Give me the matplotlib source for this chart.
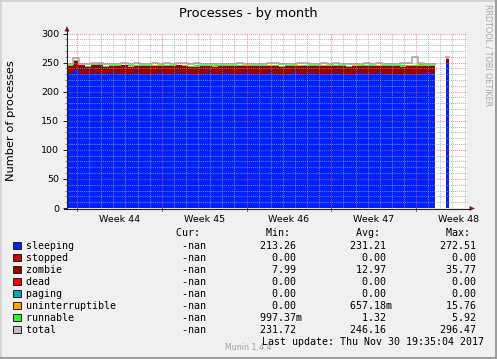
import numpy as np
import matplotlib
matplotlib.use("Agg")
import matplotlib.pyplot as plt
from matplotlib.patches import Rectangle, Polygon
from matplotlib.transforms import blended_transform_factory

W, H = 497, 359

# ---------------- data (half-day samples) ----------------
sleeping = [
    231, 237, 231, 230, 232, 231, 230, 232,
    231, 231, 230, 232, 231, 230, 231, 232,
    231, 230, 232, 231, 231, 229, 231, 232,
    230, 231, 232, 231, 230, 232, 231, 231,
    230, 232, 231, 229, 231, 232, 231, 230,
    232, 231, 230, 231, 232, 231, 229, 231,
    232, 231, 230, 232, 231, 230, 231, 229,
    231, 228, 231, 232, 231]
zombie = [
    13, 15, 14, 13, 13, 14, 13, 12,
    13, 14, 13, 12, 13, 14, 13, 12,
    13, 14, 13, 13, 12, 14, 13, 12,
    13, 13, 12, 13, 14, 12, 13, 13,
    14, 12, 13, 14, 13, 12, 13, 14,
    12, 13, 14, 13, 12, 13, 14, 13,
    12, 13, 14, 12, 13, 14, 13, 14,
    13, 16, 13, 12, 13]
uninterruptible = [
    0, 1, 0, 0, 1, 0, 0, 0,
    0, 0, 1, 0, 0, 0, 1, 0,
    0, 0, 0, 1, 0, 0, 0, 0,
    1, 0, 0, 0, 0, 1, 0, 0,
    0, 1, 0, 0, 0, 0, 1, 0,
    0, 0, 1, 0, 0, 0, 0, 1,
    0, 0, 0, 1, 0, 0, 0, 0,
    1, 0, 2, 0, 0]
runnable = [
    1, 2, 1, 1, 1, 2, 1, 1,
    1, 1, 1, 2, 1, 1, 1, 1,
    2, 1, 1, 1, 1, 2, 1, 1,
    1, 1, 1, 1, 2, 1, 1, 1,
    1, 1, 2, 1, 1, 1, 1, 2,
    1, 1, 1, 1, 2, 1, 1, 1,
    1, 2, 1, 1, 1, 1, 1, 2,
    1, 1, 1, 1, 1]
total = [
    248, 258, 248, 247, 249, 249, 247, 248,
    248, 249, 248, 249, 248, 248, 249, 248,
    249, 248, 249, 249, 247, 249, 248, 248,
    248, 248, 248, 248, 250, 248, 248, 248,
    248, 249, 249, 247, 248, 248, 249, 250,
    248, 248, 249, 248, 249, 248, 247, 248,
    248, 249, 248, 249, 248, 248, 248, 249,
    249, 259, 250, 248, 248]
# short burst of data after the gap
spike_sleeping, spike_zombie, spike_unint, spike_runnable, spike_total = 250, 6, 2, 1, 260

data_end_day = 30.35
spike_days = [31.3, 31.55]
range_days = 33.03
first_monday = 0.83          # Monday of week 44, days from left edge
week_labels = ["Week 44", "Week 45", "Week 46", "Week 47", "Week 48"]
y_ticks = [0, 50, 100, 150, 200, 250, 300]

legend_names = ["sleeping", "stopped", "zombie", "dead", "paging",
                "uninterruptible", "runnable", "total"]
legend_colors = ["#0022ff", "#cc0000", "#990000", "#ff0000", "#00aaaa",
                 "#ffa500", "#22ff22", "#c0c0c0"]
stat_cur = ["-nan"] * 8
stat_min = ["213.26", "0.00", "7.99", "0.00", "0.00", "0.00", "997.37m", "231.72"]
stat_avg = ["231.21", "0.00", "12.97", "0.00", "0.00", "657.18m", "1.32", "246.16"]
stat_max = ["272.51", "0.00", "35.77", "0.00", "0.00", "15.76", "5.92", "296.47"]

# ---------------- figure ----------------
BG = "#f0f0f0"
fig = plt.figure(figsize=(W / 100, H / 100), dpi=100, facecolor=BG)

def fx(x):
    return x / W

def fy(y):
    return 1 - y / H

# shade border
fig.add_artist(plt.Line2D([0, 1], [fy(0.5), fy(0.5)], transform=fig.transFigure, color="#cfcfcf", lw=1.2))
fig.add_artist(plt.Line2D([fx(0.5), fx(0.5)], [0, 1], transform=fig.transFigure, color="#cfcfcf", lw=1.2))
fig.add_artist(plt.Line2D([0, 1], [fy(358), fy(358)], transform=fig.transFigure, color="#9e9e9e", lw=1.5))
fig.add_artist(plt.Line2D([fx(496), fx(496)], [0, 1], transform=fig.transFigure, color="#9e9e9e", lw=1.5))

ax = fig.add_axes([fx(67), fy(208), 400 / W, 174.5 / H])
ax.set_facecolor("white")
ax.set_xlim(0, range_days)
ax.set_ylim(0, 300)
for s in ax.spines.values():
    s.set_visible(False)

n = len(sleeping)
t = np.arange(n) * 0.5
x_main = np.append(t, data_end_day)

def ext(a):
    a = np.asarray(a, dtype=float)
    return np.append(a, a[-1])

layers = [(sleeping, "#0022ff"), (zombie, "#990000"),
          (uninterruptible, "#ffa500"), (runnable, "#22ff22")]
spike_layers = [spike_sleeping, spike_zombie, spike_unint, spike_runnable]

bottom = np.zeros(n + 1)
sb = 0.0
for (vals, col), sv in zip(layers, spike_layers):
    v = ext(vals)
    ax.fill_between(x_main, bottom, bottom + v, step="post", color=col,
                    lw=0, antialiased=False, zorder=2)
    ax.fill_between(spike_days, [sb, sb], [sb + sv, sb + sv], step="post",
                    color=col, lw=0, antialiased=False, zorder=2)
    bottom = bottom + v
    sb += sv

ax.step(x_main, ext(total), where="post", color="#b8b8b8", lw=1.4, zorder=2.5)
ax.step(spike_days, [spike_total, spike_total], where="post", color="#b8b8b8",
        lw=1.4, zorder=2.5)

# grid (drawn on top like rrdtool)
minor_col = (0.62, 0.62, 0.62, 0.7)
major_col = (0.9, 0.35, 0.35, 0.65)
dash = (0, (1, 1))
day = first_monday - 1
while day < range_days:
    if day > 0:
        k = round(day - first_monday)
        is_major = (k % 7 == 0)
        ax.axvline(day, color=major_col if is_major else minor_col, lw=0.75,
                   ls=dash, zorder=3)
    day += 1
for yv in range(10, 301, 10):
    ax.axhline(yv, color=major_col if yv % 50 == 0 else minor_col, lw=0.75,
               ls=dash, zorder=3)

# ticks
ax.set_yticks(y_ticks)
ax.set_yticklabels([str(v) for v in y_ticks], fontsize=6.8)
ax.set_yticks(range(0, 301, 10), minor=True)
ax.tick_params(axis="y", which="major", length=3, width=0.7, color="#202020", pad=2.5)
ax.tick_params(axis="y", which="minor", length=1.5, width=0.7, color="#909090")
label_pos = [first_monday - 3.5 + 7 * (i + 1) for i in range(len(week_labels))]
ax.set_xticks(label_pos)
ax.set_xticklabels(week_labels, fontsize=6.8)
ax.tick_params(axis="x", which="major", length=0, pad=5)

trans = blended_transform_factory(ax.transData, fig.transFigure)
for i in range(len(week_labels)):
    wd = first_monday + 7 * i
    ax.add_line(plt.Line2D([wd, wd], [fy(208), fy(211)], transform=trans,
                           color="#c04040", lw=0.7, clip_on=False))

ax.set_ylabel("Number of processes", fontsize=8.2)
ax.yaxis.set_label_coords((16 - 67) / 400, (208 - 121) / 174.5)

# axes lines and arrows
axis_col = (0.12, 0.12, 0.12)
arrow_col = (0.5, 0.12, 0.12)
fig.add_artist(plt.Line2D([fx(67), fx(67)], [fy(208.5), fy(30)], transform=fig.transFigure,
                          color=axis_col, lw=0.8))
fig.add_artist(plt.Line2D([fx(64), fx(470)], [fy(208.5), fy(208.5)], transform=fig.transFigure,
                          color=axis_col, lw=0.8))
fig.add_artist(Polygon([(fx(67), fy(26)), (fx(64.5), fy(31.5)), (fx(69.5), fy(31.5))],
                       transform=fig.transFigure, color=arrow_col, lw=0))
fig.add_artist(Polygon([(fx(475), fy(208.5)), (fx(469.5), fy(206)), (fx(469.5), fy(211))],
                       transform=fig.transFigure, color=arrow_col, lw=0))

# title and side texts
fig.text(fx(248.5), fy(13.5), "Processes - by month", ha="center", va="center",
         fontsize=9.3, color="black")
fig.text(fx(488), fy(4), "RRDTOOL / TOBI OETIKER", rotation=270, ha="center", va="top",
         fontsize=5.8, color="#a8a8a8")
fig.text(fx(248.5), fy(347.5), "Munin 1.4.4", ha="center", va="center",
         fontsize=5.7, color="#a0a0a0")

# legend (monospace GPRINT style)
MONO = dict(family="DejaVu Sans Mono", fontsize=7.18, color="black")

def place(buf, s, end):
    start = end - len(s) + 1
    for i, ch in enumerate(s):
        buf[start + i] = ch

def cell(buf, val, end):
    if val[-1].isalpha() and val != "-nan":
        place(buf, val[:-1], end)
        buf[end + 1] = val[-1]
    else:
        place(buf, val, end)

hdr = [" "] * 78
place(hdr, "Cur:", 28)
place(hdr, "Min:", 43)
place(hdr, "Avg:", 58)
place(hdr, "Max:", 73)
fig.text(fx(26.5), fy(233), "".join(hdr).rstrip(), ha="left", va="center", **MONO)

for i, name in enumerate(legend_names):
    yc = 245.7 + 12 * i
    buf = [" "] * 78
    for j, ch in enumerate(name):
        buf[j] = ch
    cell(buf, stat_cur[i], 29)
    cell(buf, stat_min[i], 44)
    cell(buf, stat_avg[i], 59)
    cell(buf, stat_max[i], 74)
    fig.text(fx(26.5), fy(yc), "".join(buf).rstrip(), ha="left", va="center", **MONO)
    fig.add_artist(Rectangle((fx(13.3), fy(yc + 3.6)), 7.2 / W, 7.2 / H,
                             transform=fig.transFigure, facecolor=legend_colors[i],
                             edgecolor="#202020", lw=0.7))

fig.text(fx(261.5), fy(341.7), "Last update: Thu Nov 30 19:35:04 2017",
         ha="left", va="center", **MONO)

fig.savefig("out.png", dpi=100, facecolor=BG)
